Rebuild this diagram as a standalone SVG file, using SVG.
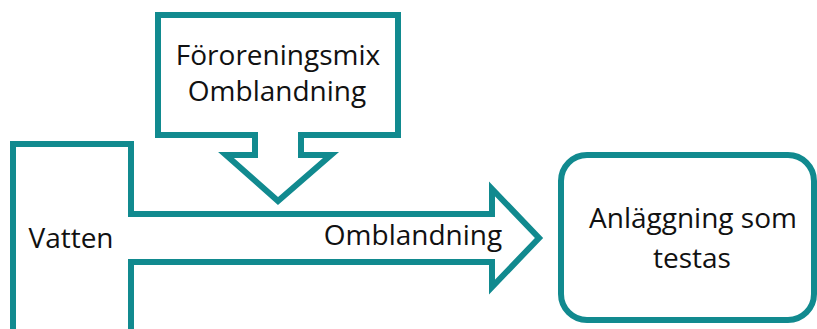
<svg xmlns="http://www.w3.org/2000/svg" width="817" height="329" viewBox="0 0 817 329">
<style>
.shape{fill:#fff;stroke:#118A8F;stroke-width:6;stroke-linejoin:miter}
.t{font-family:"Open Sans","Liberation Sans",sans-serif;font-size:28px;fill:#111;text-anchor:middle}
</style>
<rect width="817" height="329" fill="#fff"/>
<g id="connectors">
<path class="shape" d="M13,144 H131 V214 H492 V189 L539,238 L492,287 V262 H131 V333 H13 Z"/>
<path class="shape" d="M158,15 H398 V135 H301 V155 H331 L278,201 L226,155 H255 V135 H158 Z"/>
<text class="t" x="413" y="245">Omblandning</text>
</g>
<g id="vatten">
<text class="t" x="71" y="248">Vatten</text>
</g>
<g id="fororeningsmix">
<text class="t" x="278" y="65">Föroreningsmix</text>
<text class="t" x="277" y="101">Omblandning</text>
</g>
<g id="anlaggning">
<rect class="shape" x="561" y="155" width="253" height="165" rx="26"/>
<text class="t" x="693" y="228">Anläggning som</text>
<text class="t" x="692" y="268">testas</text>
</g>
</svg>
